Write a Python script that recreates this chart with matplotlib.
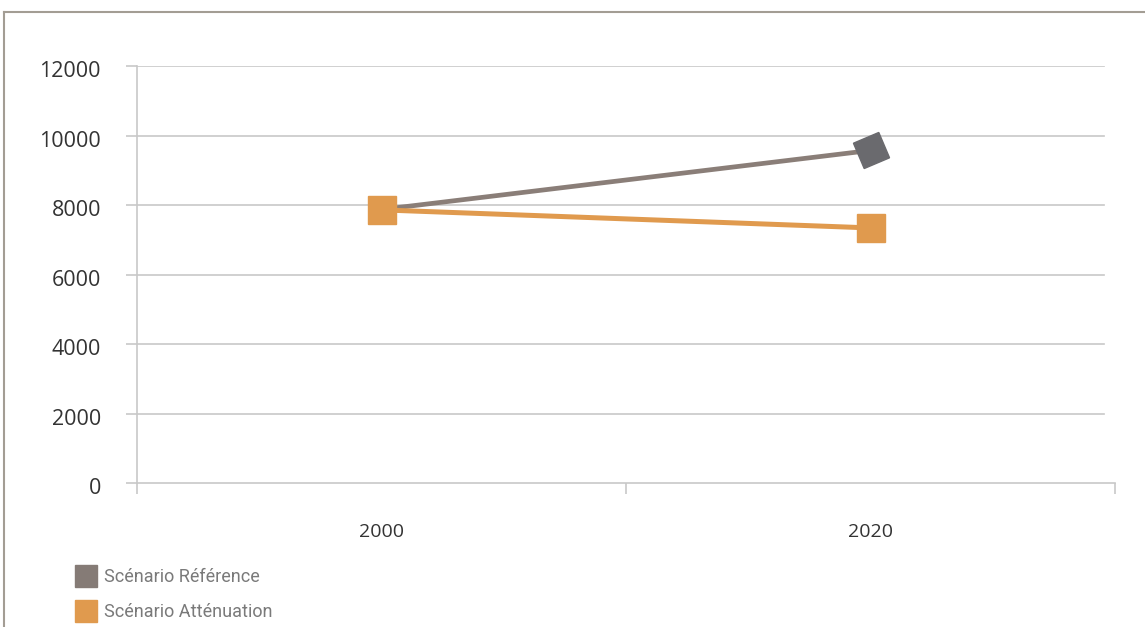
import matplotlib.pyplot as plt
from matplotlib.lines import Line2D
from matplotlib.transforms import ScaledTranslation

years = ['2000', '2020']
scen_ref = [7870, 9570]
scen_att = [7860, 7340]
y_ticks = [0, 2000, 4000, 6000, 8000, 10000, 12000]
labels = ['Scénario Référence', 'Scénario Atténuation']

c_ref_line = '#8a7e78'
c_ref_mark = '#6a6a6e'
c_att = '#e09a4e'
c_grid = '#c8c8c8'

fig = plt.figure(figsize=(11.45, 6.27), dpi=100)
ax = fig.add_axes([137/1145, 1-483/627, (1115-137)/1145, (483-66)/627])

x = list(range(len(years)))
ax.plot(x, scen_ref, color=c_ref_line, lw=3.4, zorder=3)
ax.plot(x[1], scen_ref[1], marker=(4, 0, 68), markersize=28, color=c_ref_mark,
        mec=c_ref_mark, lw=0, zorder=4)
ax.plot(x, scen_att, color=c_att, lw=3.6, marker='s', markersize=19.5,
        mec=c_att, zorder=5)

ax.set_xlim(-0.5, 1.5)
ax.set_ylim(0, 12000)

# gridlines stop a bit short of the right end
for yv in y_ticks[1:]:
    ax.axhline(yv, xmin=0, xmax=0.989, color=c_grid, lw=1.2, zorder=1)

ax.set_yticks(y_ticks)
ax.set_xticks([-0.5, 0.5, 1.5])
ax.set_xticklabels([])
ax.set_xticks(x, minor=True)
ax.set_xticklabels(years, minor=True)
ax.tick_params(axis='x', which='major', length=8, width=1.2, color=c_grid)
ax.tick_params(axis='x', which='minor', length=0, pad=29, labelsize=14,
               labelcolor='#333333')
ax.tick_params(axis='y', length=8, width=1.2, color=c_grid, pad=18,
               labelsize=15.5, labelcolor='#333333')
shift = ScaledTranslation(0, -3/100, fig.dpi_scale_trans)
for lab in ax.get_yticklabels():
    lab.set_fontfamily('Open Sans')
    lab.set_transform(lab.get_transform() + shift)
for lab in ax.get_xticklabels(minor=True):
    lab.set_fontfamily('Open Sans')

for s in ['top', 'right']:
    ax.spines[s].set_visible(False)
ax.spines['left'].set_color(c_grid)
ax.spines['bottom'].set_color(c_grid)
ax.spines['left'].set_linewidth(1.2)
ax.spines['bottom'].set_linewidth(1.2)

# frame of the page
fig.add_artist(Line2D([4/1145, 1], [1-12/627, 1-12/627], color='#a39d94', lw=1.5))
fig.add_artist(Line2D([4/1145, 4/1145], [0, 1-12/627], color='#a39d94', lw=1.5))

handles = [Line2D([], [], marker='s', ls='', markersize=16, color='#857b76'),
           Line2D([], [], marker='s', ls='', markersize=16, color=c_att)]
fig.legend(handles, labels, loc='upper left', bbox_to_anchor=(61/1145, 1-552/627),
           frameon=False, handlelength=1.0, handletextpad=0.5, labelspacing=0.95,
           prop={'family': 'Roboto', 'size': 13}, labelcolor='#7a7a7a')

fig.savefig('out.png', dpi=100)
